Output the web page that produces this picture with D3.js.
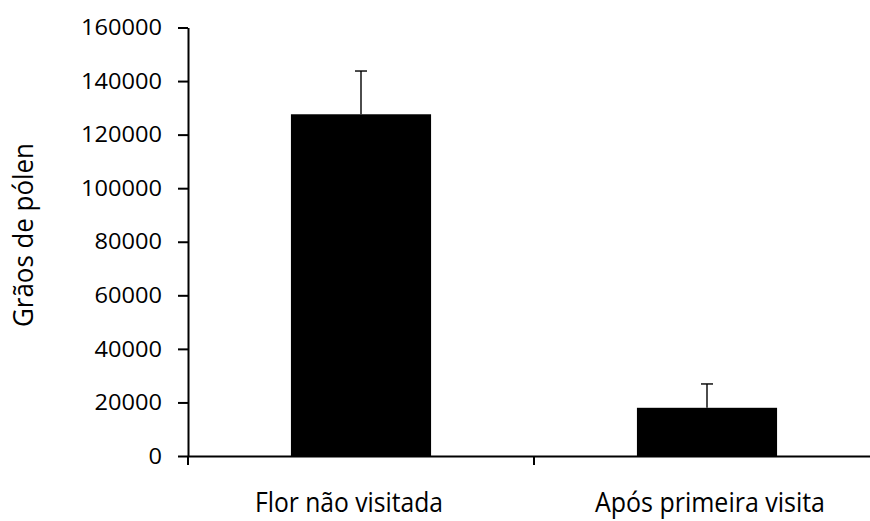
<!DOCTYPE html>
<html>
<head>
<meta charset="utf-8">
<script src="https://cdn.jsdelivr.net/npm/d3@7"></script>
<style>
  html, body { margin: 0; padding: 0; background: #fff; }
  svg { display: block; }
  text { font-family: "Open Sans", "Noto Sans", sans-serif; fill: #000; }
</style>
</head>
<body>
<svg id="chart" width="870" height="521"></svg>
<script>
// Pollen grain counts per flower (mean with upper error bar)
const categories = ["Flor não visitada", "Após primeira visita"];
const means = [127600, 18000];
const errors = [16150, 8900];
const yTicks = [0, 20000, 40000, 60000, 80000, 100000, 120000, 140000, 160000];
const yTitle = "Grãos de pólen";

const svg = d3.select("#chart");

const y = d3.scaleLinear().domain([0, 160000]).range([456, 27.5]);
const x = d3.scaleBand().domain(categories).range([188, 880]).padding(0);

const barFrac = 0.405;
const barW = x.bandwidth() * barFrac;
const capW = 12;

// Bars
svg.append("g").selectAll("rect")
  .data(categories)
  .join("rect")
  .attr("x", d => x(d) + (x.bandwidth() - barW) / 2)
  .attr("y", (d, i) => y(means[i]))
  .attr("width", barW)
  .attr("height", (d, i) => y(0) - y(means[i]))
  .attr("fill", "#000");

// Error bars (upper only)
const eb = svg.append("g").attr("stroke", "#000").attr("stroke-width", 1.4);
categories.forEach((c, i) => {
  const cx = x(c) + x.bandwidth() / 2;
  eb.append("line")
    .attr("x1", cx).attr("x2", cx)
    .attr("y1", y(means[i])).attr("y2", y(means[i] + errors[i]));
  eb.append("line")
    .attr("x1", cx - capW / 2).attr("x2", cx + capW / 2)
    .attr("y1", y(means[i] + errors[i])).attr("y2", y(means[i] + errors[i]));
});

// Y axis
const yAxis = svg.append("g")
  .attr("transform", "translate(188,0)")
  .call(d3.axisLeft(y).tickValues(yTicks).tickSize(10).tickSizeOuter(0).tickFormat(d3.format("d")));
yAxis.select(".domain").attr("stroke", "#000").attr("stroke-width", 2);
yAxis.selectAll(".tick line").attr("stroke", "#000").attr("stroke-width", 2);
yAxis.selectAll(".tick text")
  .attr("x", -26)
  .attr("dy", "0.34em")
  .attr("font-size", 21)
  .attr("font-family", "\"Open Sans\", sans-serif")
  .attr("textLength", function () { return this.textContent.length * 13.5; })
  .attr("lengthAdjust", "spacingAndGlyphs");

// X axis: baseline with ticks at category boundaries
const xAxis = svg.append("g").attr("transform", "translate(0,456)");
xAxis.call(d3.axisBottom(x).tickSize(0).tickSizeOuter(0).tickFormat(""));
xAxis.select(".domain").attr("stroke", "#000").attr("stroke-width", 2);
const bounds = categories.map(c => x(c)).concat([x.range()[1]]);
xAxis.selectAll("line.bound")
  .data(bounds)
  .join("line")
  .attr("class", "bound")
  .attr("x1", d => d).attr("x2", d => d)
  .attr("y1", 0).attr("y2", 9)
  .attr("stroke", "#000").attr("stroke-width", 2);

// Category labels
const labelLen = [188, 230];
const labelShift = [-12, 3];
svg.append("g").selectAll("text")
  .data(categories)
  .join("text")
  .attr("x", (d, i) => x(d) + x.bandwidth() / 2 + labelShift[i])
  .attr("y", 512)
  .attr("text-anchor", "middle")
  .attr("font-size", 27)
  .attr("textLength", (d, i) => labelLen[i])
  .attr("lengthAdjust", "spacingAndGlyphs")
  .text(d => d);

// Y axis title
svg.append("text")
  .attr("transform", "translate(33,235) rotate(-90)")
  .attr("text-anchor", "middle")
  .attr("font-size", 28)
  .attr("textLength", 184)
  .attr("lengthAdjust", "spacingAndGlyphs")
  .text(yTitle);
</script>
</body>
</html>
